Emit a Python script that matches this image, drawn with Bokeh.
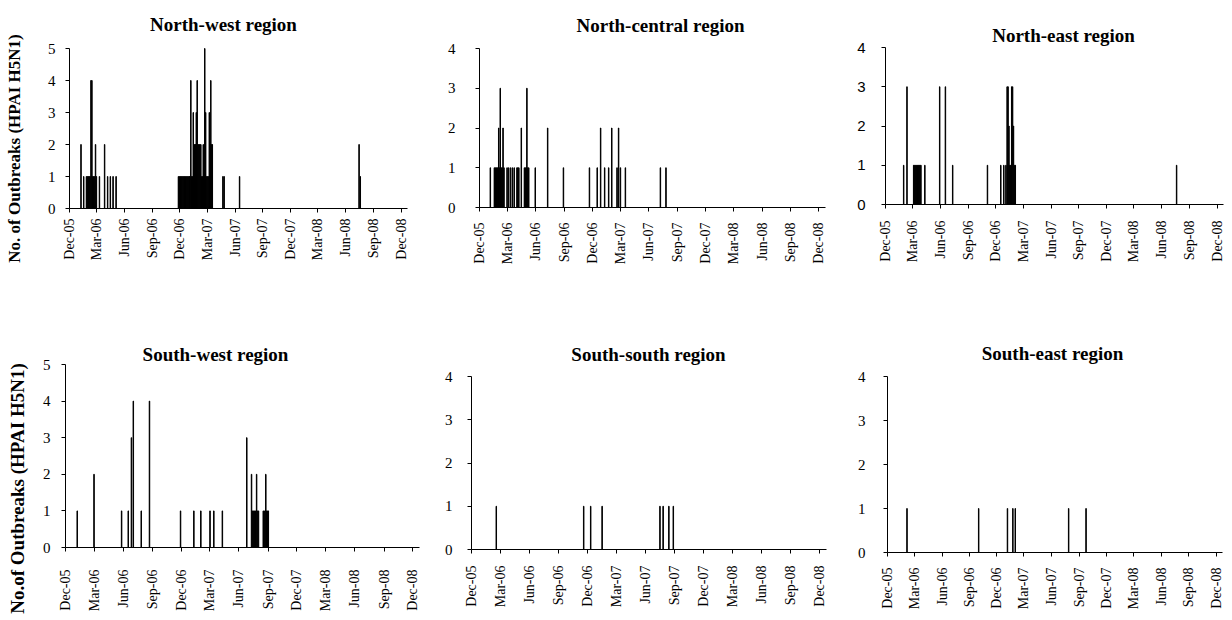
import math
import pandas as pd
from bokeh.plotting import figure
from bokeh.layouts import column, row
from bokeh.models import FixedTicker, DatetimeTickFormatter, Range1d
from bokeh.core.properties import value
from bokeh.embed import file_html
from bokeh.resources import INLINE

# ---------------- data ----------------
tick_labels = ["Dec-05", "Mar-06", "Jun-06", "Sep-06", "Dec-06", "Mar-07", "Jun-07",
               "Sep-07", "Dec-07", "Mar-08", "Jun-08", "Sep-08", "Dec-08"]
tick_dates = ["2005-12-01", "2006-03-01", "2006-06-01", "2006-09-01", "2006-12-01",
              "2007-03-01", "2007-06-01", "2007-09-01", "2007-12-01", "2008-03-01",
              "2008-06-01", "2008-09-01", "2008-12-01"]

nw_dates = ["2006-01-08", "2006-01-17", "2006-01-26", "2006-01-29", "2006-02-01", "2006-02-04",
            "2006-02-07", "2006-02-10", "2006-02-13", "2006-02-16", "2006-02-19", "2006-02-22",
            "2006-02-25", "2006-02-28", "2006-03-10", "2006-03-27", "2006-04-06", "2006-04-15",
            "2006-04-24", "2006-05-04",
            "2006-11-26", "2006-11-29", "2006-12-02", "2006-12-05", "2006-12-08", "2006-12-11",
            "2006-12-14", "2006-12-17", "2006-12-20", "2006-12-23", "2006-12-26", "2006-12-29",
            "2007-01-01", "2007-01-03", "2007-01-06", "2007-01-09", "2007-01-11", "2007-01-14",
            "2007-01-17", "2007-01-20", "2007-01-22", "2007-01-24", "2007-01-27", "2007-01-30",
            "2007-02-02", "2007-02-05", "2007-02-08", "2007-02-11", "2007-02-14", "2007-02-16",
            "2007-02-18", "2007-02-21", "2007-02-24", "2007-02-27", "2007-03-02", "2007-03-05",
            "2007-03-08", "2007-03-11", "2007-03-13", "2007-03-16", "2007-03-18",
            "2007-04-22", "2007-04-26", "2007-06-16", "2008-07-15", "2008-07-19"]
nw_counts = [2, 1, 1, 1, 1, 1, 1, 4, 4, 1, 1, 1, 2, 1, 1, 2, 1, 1, 1, 1,
             1, 1, 1, 1, 1, 1, 1, 1, 1, 1, 1, 1, 1, 1, 4, 1, 1, 3, 2, 2, 2, 3, 4, 2, 2, 2, 2,
             1, 1, 2, 1, 5, 3, 1, 1, 1, 3, 2, 4, 2, 2,
             1, 1, 1, 2, 1]

nc_dates = ["2006-01-05", "2006-01-18", "2006-01-21", "2006-01-24", "2006-01-27", "2006-01-30",
            "2006-02-01", "2006-02-04", "2006-02-06", "2006-02-09", "2006-02-12", "2006-02-15",
            "2006-02-18", "2006-02-28", "2006-03-05", "2006-03-11", "2006-03-17", "2006-03-23",
            "2006-04-01", "2006-04-04", "2006-04-07", "2006-04-15", "2006-04-25", "2006-04-28",
            "2006-05-01", "2006-05-03", "2006-05-06", "2006-05-09", "2006-05-30", "2006-07-09",
            "2006-08-29", "2006-11-21", "2006-12-16", "2006-12-27", "2007-01-09", "2007-01-22",
            "2007-02-01", "2007-02-18", "2007-02-23", "2007-03-01", "2007-03-17", "2007-07-08",
            "2007-07-26"]
nc_counts = [1, 1, 1, 1, 1, 1, 2, 1, 3, 1, 1, 2, 1, 1, 1, 1, 1, 1, 1, 1, 1, 2, 1, 1, 1, 3,
             1, 1, 1, 2, 1, 1, 1, 2, 1, 1, 2, 1, 2, 1, 1, 1, 1]

ne_dates = ["2006-01-30", "2006-02-10", "2006-03-04", "2006-03-07", "2006-03-10", "2006-03-13",
            "2006-03-16", "2006-03-19", "2006-03-22", "2006-03-25", "2006-03-28", "2006-04-10",
            "2006-05-29", "2006-06-17", "2006-07-11", "2006-11-03", "2006-12-17", "2006-12-27",
            "2007-01-03", "2007-01-07", "2007-01-10", "2007-01-13", "2007-01-16", "2007-01-19",
            "2007-01-22", "2007-01-25", "2007-01-28", "2007-01-31", "2007-02-03", "2008-07-20"]
ne_counts = [1, 3, 1, 1, 1, 1, 1, 1, 1, 1, 1, 1, 3, 3, 1, 1, 1, 1, 1, 3, 3, 2, 1, 1, 3, 3,
             2, 1, 1, 1]

sw_dates = ["2006-01-07", "2006-03-01", "2006-05-27", "2006-06-17", "2006-06-27", "2006-07-03",
            "2006-07-28", "2006-08-23", "2006-11-29", "2007-01-10", "2007-02-01", "2007-03-02",
            "2007-03-14", "2007-04-10", "2007-06-26", "2007-07-11", "2007-07-14", "2007-07-17",
            "2007-07-20", "2007-07-23", "2007-07-27", "2007-07-30", "2007-08-02", "2007-08-17",
            "2007-08-20", "2007-08-25", "2007-08-28", "2007-08-31", "2007-09-02"]
sw_counts = [1, 2, 1, 1, 3, 4, 1, 4, 1, 1, 1, 1, 1, 1, 3, 2, 1, 1, 1, 1, 2, 1, 1, 1, 1, 2,
             1, 1, 1]

ss_dates = ["2006-02-17", "2006-11-19", "2006-12-11", "2007-01-16", "2007-07-17", "2007-07-27",
            "2007-08-14", "2007-08-28"]
ss_counts = [1, 1, 1, 1, 1, 1, 1, 1]

se_dates = ["2006-02-04", "2006-10-01", "2007-01-05", "2007-01-23", "2007-01-31", "2007-07-28",
            "2007-09-24"]
se_counts = [1, 1, 1, 1, 1, 1, 1]

titles = ["North-west region", "North-central region", "North-east region",
          "South-west region", "South-south region", "South-east region"]
y_label_top = "No. of Outbreaks (HPAI H5N1)"
y_label_bottom = "No.of Outbreaks (HPAI H5N1)"

# ---------------- layout (page pixels) ----------------
DAY = 86400000.0
SERIF = "Liberation Serif"
ROW1_H, ROW2_H = 290, 329
LAB_W = 30


def ms(d):
    return pd.Timestamp(d).value / 1e6


tick_ms = [ms(d) for d in tick_dates]
x_start = ms(tick_dates[0])
x_end = ms(tick_dates[-1]) + 21 * DAY
fmt = "%b-%y"


def no_align(p):
    if "frame_align" in p.properties():
        p.frame_align = False


def panel(title, dates, counts, ymax, cx0, cx1, cy0, cy1, L, R, FT, A, B,
          t_cx, t_base, ylab_std, xlab_std, ytick_font=SERIF):
    """cx0..cx1 / cy0..cy1: canvas box on page; L,R frame x; FT frame top;
    A = pixel of ymax, B = pixel of 0 (frame bottom)."""
    assert len(dates) == len(counts)
    ytop = ymax * (B - FT) / (B - A)
    p = figure(width=cx1 - cx0, height=cy1 - cy0, x_axis_type="datetime",
               x_range=Range1d(x_start, x_end), y_range=Range1d(0, ytop),
               output_backend="svg", toolbar_location=None,
               min_border_left=L - cx0, min_border_right=cx1 - R,
               min_border_top=FT - cy0, min_border_bottom=cy1 - B)
    no_align(p)
    p.vbar(x=pd.to_datetime(dates), top=counts, bottom=0, width=1.5 * DAY,
           fill_color="black", line_color="black", line_width=1)
    # title inside the (extended) frame
    tx = x_start + (t_cx - L) / (R - L) * (x_end - x_start)
    ty = ymax * (B - t_base) / (B - A)
    p.text(x=[tx], y=[ty], text=[title], text_font=value(SERIF),
           text_font_style="bold", text_font_size="19px", text_color="black",
           text_align="center", text_baseline="alphabetic")
    p.xgrid.visible = False
    p.ygrid.visible = False
    p.outline_line_color = None

    xa = p.xaxis[0]
    xa.ticker = FixedTicker(ticks=tick_ms)
    xa.formatter = DatetimeTickFormatter(days=fmt, months=fmt, years=fmt,
                                         hours=fmt, hourmin=fmt, minutes=fmt)
    xa.major_label_orientation = math.pi / 2
    xa.major_label_text_font = SERIF
    xa.major_label_text_font_size = "14px"
    xa.major_label_text_color = "black"
    xa.major_label_standoff = xlab_std
    xa.major_tick_out = 4
    xa.major_tick_in = 0
    xa.minor_tick_out = 0
    xa.minor_tick_in = 0
    xa.axis_line_color = "black"
    xa.major_tick_line_color = "black"

    ya = p.yaxis[0]
    ya.ticker = FixedTicker(ticks=list(range(0, ymax + 1)))
    ya.bounds = (0, ymax)
    ya.major_label_text_font = ytick_font
    ya.major_label_text_font_size = "15px"
    ya.major_label_text_color = "black"
    ya.major_label_standoff = ylab_std
    ya.major_tick_out = 4
    ya.major_tick_in = 0
    ya.minor_tick_out = 0
    ya.minor_tick_in = 0
    ya.axis_line_color = "black"
    ya.major_tick_line_color = "black"
    return p


def label_fig(text, h, cx, cy_page, cy0, size):
    p = figure(width=LAB_W, height=h, x_range=Range1d(0, LAB_W), y_range=Range1d(0, h),
               output_backend="svg", toolbar_location=None,
               x_axis_location=None, y_axis_location=None,
               min_border_left=0, min_border_right=0, min_border_top=0, min_border_bottom=0)
    no_align(p)
    p.xgrid.visible = False
    p.ygrid.visible = False
    p.outline_line_color = None
    p.text(x=[cx], y=[cy0 + h - cy_page], text=[text], angle=math.pi / 2,
           text_font=value(SERIF), text_font_style="bold", text_font_size=size,
           text_color="black", text_align="center", text_baseline="middle")
    return p


r1y0, r1y1 = 0, ROW1_H
r2y0, r2y1 = ROW1_H, ROW1_H + ROW2_H

lab1 = label_fig(y_label_top, ROW1_H, 14, 148, r1y0, "17px")
f1 = panel(titles[0], nw_dates, nw_counts, 5, LAB_W, 420, r1y0, r1y1,
           69, 407, 2, 48, 208, 223, 24, 10, 6)
f2 = panel(titles[1], nc_dates, nc_counts, 4, 420, 828, r1y0, r1y1,
           479, 825, 2, 48, 207, 660, 25, 20, 11)
f3 = panel(titles[2], ne_dates, ne_counts, 4, 828, 1231, r1y0, r1y1,
           885, 1223, 2, 47, 204, 1063, 35, 16, 12, ytick_font="Liberation Sans")

lab4 = label_fig(y_label_bottom, ROW2_H, 17, 488, r2y0, "19px")
f4 = panel(titles[3], sw_dates, sw_counts, 5, LAB_W, 420, r2y0, r2y1,
           65, 419, 336, 364, 547, 215, 354, 11, 18)
f5 = panel(titles[4], ss_dates, ss_counts, 4, 420, 828, r2y0, r2y1,
           471, 826, 336, 376, 549, 648, 354, 15, 12)
f6 = panel(titles[5], se_dates, se_counts, 4, 828, 1231, r2y0, r2y1,
           887, 1222, 336, 376, 552, 1052, 353, 18, 11)

layout = column(row(lab1, f1, f2, f3), row(lab4, f4, f5, f6))

open("out.html", "w").write(file_html(layout, INLINE))
